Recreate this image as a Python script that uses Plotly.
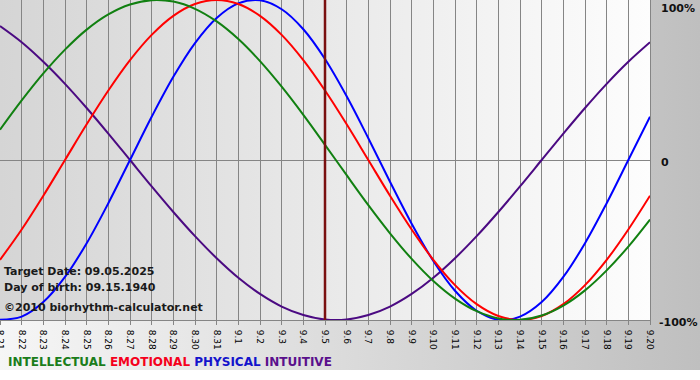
import base64
import plotly.graph_objects as go

# ---- data ----
dates = ["8.21", "8.22", "8.23", "8.24", "8.25", "8.26", "8.27", "8.28", "8.29", "8.30", "8.31",
         "9.1", "9.2", "9.3", "9.4", "9.5", "9.6", "9.7", "9.8", "9.9", "9.10",
         "9.11", "9.12", "9.13", "9.14", "9.15", "9.16", "9.17", "9.18", "9.19", "9.20"]

physical = [-0.998, -0.979, -0.888, -0.731, -0.520, -0.270, 0.0, 0.270, 0.520, 0.731, 0.888,
            0.979, 0.998, 0.942, 0.817, 0.631, 0.398, 0.136, -0.136, -0.398, -0.631,
            -0.817, -0.942, -0.998, -0.979, -0.888, -0.731, -0.520, -0.270, 0.0, 0.270]

emotional = [-0.624, -0.434, -0.223, 0.0, 0.223, 0.434, 0.624, 0.782, 0.901, 0.975, 1.0,
             0.975, 0.901, 0.782, 0.624, 0.434, 0.223, 0.0, -0.223, -0.434, -0.624,
             -0.782, -0.901, -0.975, -1.0, -0.975, -0.901, -0.782, -0.624, -0.434, -0.223]

intellectual = [0.189, 0.372, 0.541, 0.690, 0.815, 0.910, 0.972, 0.999, 0.990, 0.945, 0.866,
                0.756, 0.618, 0.458, 0.282, 0.095, -0.095, -0.282, -0.458, -0.618, -0.756,
                -0.866, -0.945, -0.990, -0.999, -0.972, -0.910, -0.815, -0.690, -0.541, -0.372]

intuitive = [0.837, 0.736, 0.614, 0.476, 0.325, 0.165, 0.0, -0.165, -0.325, -0.476, -0.614,
             -0.736, -0.837, -0.916, -0.969, -0.997, -0.997, -0.969, -0.916, -0.837, -0.736,
             -0.614, -0.476, -0.325, -0.165, 0.0, 0.165, 0.325, 0.476, 0.614, 0.736]

target_date = "9.5"
y_ticks = ["100%", "0", "-100%"]
legend_names = ["INTELLECTUAL", "EMOTIONAL", "PHYSICAL", "INTUITIVE"]

# ---- styling ----
W, H = 700, 380
ML, MR, MT, MB = 0, 50, 0, 60
PW, PH = W - ML - MR, H - MT - MB

c_int = "#118011"
c_emo = "#ff0000"
c_phy = "#0000ff"
c_itu = "#4b0a82"
FONT = "DejaVu Sans"

def grad_svg(c1, c2):
    svg = ('<svg xmlns="http://www.w3.org/2000/svg" width="100" height="100" viewBox="0 0 100 100" '
           'preserveAspectRatio="none"><defs><linearGradient id="g" x1="0" y1="0" x2="1" y2="0">'
           f'<stop offset="0" stop-color="{c1}"/><stop offset="1" stop-color="{c2}"/>'
           '</linearGradient></defs><rect width="100" height="100" fill="url(#g)"/></svg>')
    return "data:image/svg+xml;base64," + base64.b64encode(svg.encode()).decode()

xs = list(range(len(dates)))

fig = go.Figure()
for name, vals, col in [("INTUITIVE", intuitive, c_itu), ("PHYSICAL", physical, c_phy),
                        ("EMOTIONAL", emotional, c_emo), ("INTELLECTUAL", intellectual, c_int)]:
    fig.add_trace(go.Scatter(x=xs, y=vals, mode="lines", name=name,
                             line=dict(color=col, width=2, shape="spline", smoothing=1.0),
                             showlegend=False, hoverinfo="skip"))

fig.add_vline(x=dates.index(target_date), line=dict(color="#7a1010", width=2.5))

fig.update_xaxes(range=[0, len(dates) - 1], tickmode="array", tickvals=xs, ticktext=dates,
                 tickangle=90, tickfont=dict(family=FONT, size=9, color="#000000"),
                 ticklabeloverflow="allow", ticklabelstandoff=3,
                 showgrid=True, gridcolor="#858585", gridwidth=1,
                 ticks="outside", ticklen=4, tickcolor="#858585",
                 showline=True, linecolor="#858585", mirror=True, zeroline=False,
                 automargin=False)
fig.update_yaxes(range=[-1, 1], showgrid=False, zeroline=True, zerolinecolor="#858585",
                 zerolinewidth=1, showticklabels=False, ticks="",
                 showline=True, linecolor="#858585", mirror=True, automargin=False)

def px_x(px):
    return (px - ML) / PW

def px_y(py):
    return (MT + PH - py) / PH

annos = []
info = ["Target Date: 09.05.2025", "Day of birth: 09.15.1940", "©2010 biorhythm-calculator.net"]
for txt, py in zip(info, [271, 287, 307]):
    annos.append(dict(text=f"<b>{txt}</b>", x=px_x(2), y=px_y(py), xref="paper", yref="paper",
                      xanchor="left", yanchor="middle", showarrow=False,
                      font=dict(family=FONT, size=11, color="#1a1a1a")))
for txt, py in zip(y_ticks, [8, 162, 322]):
    annos.append(dict(text=f"<b>{txt}</b>", x=px_x(657 if txt.startswith("-") else 659), y=px_y(py),
                      xref="paper", yref="paper", xanchor="left", yanchor="middle",
                      showarrow=False, font=dict(family=FONT, size=11, color="#111111")))
leg_cols = ["#1b7d1b", "#f5001c", "#1414cc", "#5a108c"]
leg_text = " ".join(f'<span style="color:{c}">{n}</span>' for n, c in zip(legend_names, leg_cols))
annos.append(dict(text=f"<b>{leg_text}</b>", x=px_x(6), y=px_y(362), xref="paper", yref="paper",
                  xanchor="left", yanchor="middle", showarrow=False,
                  font=dict(family=FONT, size=12)))

images = [
    dict(source=grad_svg("#f6f6f6", "#bfbfbf"), xref="paper", yref="paper",
         x=px_x(0), y=px_y(0), sizex=W / PW, sizey=370 / PH, sizing="stretch",
         xanchor="left", yanchor="top", layer="below"),
    dict(source=grad_svg("#d5d5d5", "#fdfdfd"), xref="paper", yref="paper",
         x=0, y=1, sizex=1, sizey=1, sizing="stretch",
         xanchor="left", yanchor="top", layer="below"),
]

fig.update_layout(width=W, height=H, margin=dict(l=ML, r=MR, t=MT, b=MB),
                  paper_bgcolor="#ffffff", plot_bgcolor="rgba(0,0,0,0)",
                  annotations=annos, images=images, showlegend=False)

fig.write_html("out.html", config={"displayModeBar": False},
               post_script="document.body.style.margin='0';document.body.style.overflow='hidden';")
